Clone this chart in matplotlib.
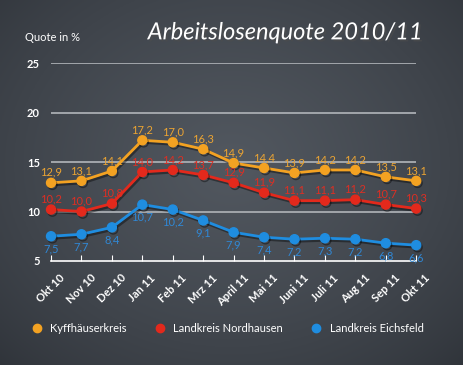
import numpy as np
import matplotlib
matplotlib.use("Agg")
import matplotlib.pyplot as plt
import matplotlib.patheffects as pe
from matplotlib.lines import Line2D

months = ["Okt 10", "Nov 10", "Dez 10", "Jan 11", "Feb 11", "Mrz 11", "April 11",
          "Mai 11", "Juni 11", "Juli 11", "Aug 11", "Sep 11", "Okt 11"]
kyff = [12.9, 13.1, 14.1, 17.2, 17.0, 16.3, 14.9, 14.4, 13.9, 14.2, 14.2, 13.5, 13.1]
nord = [10.2, 10.0, 10.8, 14.0, 14.2, 13.7, 12.9, 11.9, 11.1, 11.1, 11.2, 10.7, 10.3]
eich = [7.5, 7.7, 8.4, 10.7, 10.2, 9.1, 7.9, 7.4, 7.2, 7.3, 7.2, 6.8, 6.6]
series_names = ["Kyffhäuserkreis", "Landkreis Nordhausen", "Landkreis Eichsfeld"]
yticks = [5, 10, 15, 20, 25]

colors = ["#f3a222", "#e3291c", "#1f8de0"]
label_colors = ["#eba433", "#dc2f24", "#3088d6"]

plt.rcParams['font.family'] = ['Lato', 'DejaVu Sans']

fig = plt.figure(figsize=(4.64, 3.65), dpi=100)

# chalkboard background with a vignette
bg = fig.add_axes([0, 0, 1, 1])
yy, xx = np.mgrid[0:1:200j, 0:1:250j]
r = np.sqrt(((xx - 0.5) / 0.75) ** 2 + ((yy - 0.45) / 0.8) ** 2)
shade = np.clip(1 - r, 0, 1)
c_in = np.array([0x52, 0x58, 0x60]) / 255
c_out = np.array([0x2c, 0x30, 0x36]) / 255
img = c_out + (c_in - c_out) * shade[..., None] ** 0.7
bg.imshow(img, aspect="auto", extent=[0, 1, 0, 1], origin="upper")
bg.axis("off")

ax = fig.add_axes([0.110, 0.285, 0.787, 0.542])
ax.patch.set_alpha(0)
x = np.arange(len(months))
ax.set_xlim(0, len(months) - 1)
ax.set_ylim(5, 25)

for yv in yticks[1:]:
    ax.axhline(yv, color="#a2a6ab", lw=1.4, zorder=1)

data = [kyff, nord, eich]
offsets = [7.5, 7.5, -9]
for vals, col, lcol, off, name in zip(data, colors, label_colors, offsets, series_names):
    ax.plot(x, vals, color=col, lw=2, marker="o", ms=6.5, zorder=3, clip_on=False,
            path_effects=[pe.SimpleLineShadow(offset=(1, -1.5), alpha=0.4), pe.Normal()])
    for xi, v in zip(x, vals):
        ax.annotate(f"{v:.1f}".replace(".", ","), (xi, v), xytext=(0, off),
                    textcoords="offset points", ha="center", va="center",
                    color=lcol, fontsize=8, zorder=4, annotation_clip=False)

for s in ["top", "right", "left"]:
    ax.spines[s].set_visible(False)
ax.spines["bottom"].set_color("white")
ax.spines["bottom"].set_linewidth(1.2)
ax.set_xticks(x)
ax.set_xticklabels(months, rotation=45, ha="center", va="top", color="white",
                   fontsize=8, fontweight="bold")
ax.tick_params(axis="x", direction="in", length=4, color="white", pad=8)
ax.set_yticks(yticks)
ax.set_yticklabels([str(v) for v in yticks], color="white", fontsize=8, fontweight="bold")
ax.tick_params(axis="y", length=0, pad=8)

fig.text(0.054, 0.887, "Quote in %", color="white", fontsize=8)
fig.text(0.615, 0.91, "Arbeitslosenquote 2010/11", color="white", fontsize=17,
         style="italic", ha="center", va="center",
         path_effects=[pe.withSimplePatchShadow(offset=(1.5, -1.5), alpha=0.6)])

handles = [Line2D([], [], ls="none", marker="o", ms=6, color=c) for c in colors]
fig.legend(handles, series_names, loc="center left", bbox_to_anchor=(0.048, 0.1),
           ncol=3, frameon=False, handlelength=0.8, handletextpad=0.8,
           columnspacing=2.6, fontsize=8, labelcolor="white")

fig.savefig("out.png", dpi=100)
